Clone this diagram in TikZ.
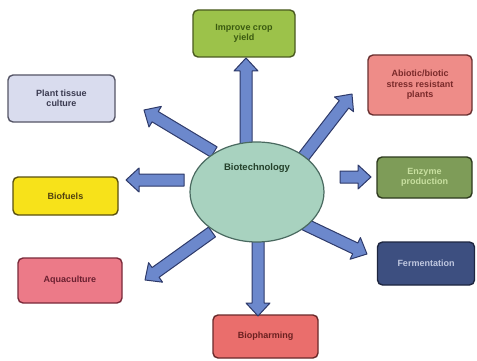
\documentclass[tikz,border=0pt]{standalone}
\usepackage{fontspec}
\setmainfont{Liberation Sans}
\usetikzlibrary{calc,shapes.geometric}
\definecolor{arrfill}{HTML}{6C88CC}
\definecolor{arrdraw}{HTML}{2E3A6A}
\definecolor{cropF}{HTML}{9CC24A}\definecolor{cropD}{HTML}{4A5A20}\definecolor{cropT}{HTML}{3A5A10}
\definecolor{ptcF}{HTML}{D9DCEE}\definecolor{ptcD}{HTML}{555566}\definecolor{ptcT}{HTML}{3A3A50}
\definecolor{abioF}{HTML}{EE8C88}\definecolor{abioD}{HTML}{6A3030}\definecolor{abioT}{HTML}{7A2A2A}
\definecolor{enzF}{HTML}{7E9C58}\definecolor{enzD}{HTML}{2E3A1E}\definecolor{enzT}{HTML}{C8E0A0}
\definecolor{fermF}{HTML}{3D4F80}\definecolor{fermD}{HTML}{1E2640}\definecolor{fermT}{HTML}{C0C8E0}
\definecolor{biofF}{HTML}{F7E21A}\definecolor{biofD}{HTML}{5A5010}\definecolor{biofT}{HTML}{504010}
\definecolor{aquaF}{HTML}{EC7A88}\definecolor{aquaD}{HTML}{7A2A3A}\definecolor{aquaT}{HTML}{6A2030}
\definecolor{biophF}{HTML}{EA6E6C}\definecolor{biophD}{HTML}{6A2A2A}\definecolor{biophT}{HTML}{6A2020}
\definecolor{ellF}{HTML}{A8D2BF}\definecolor{ellD}{HTML}{4A6A60}\definecolor{ellT}{HTML}{24402A}
\tikzset{
  box/.style={rectangle, rounded corners=5pt, line width=1.4pt, align=center,
    font=\fontsize{9}{10.5}\selectfont\bfseries, inner sep=2pt},
  barrowstyle/.style={fill=arrfill, draw=arrdraw, line width=1pt, line join=round},
}
\newcommand\blockarrow[2]{%
  \path let \p1=($(#2)-(#1)$) in \pgfextra{%
    \pgfmathsetmacro\tmpang{atan2(\y1,\x1)}%
    \pgfmathsetmacro\tmplen{veclen(\x1,\y1)}%
    \xdef\bang{\tmpang}\xdef\blen{\tmplen}};
  \begin{scope}[shift={(#1)}, rotate=\bang]
    \draw[barrowstyle] (0pt,-6pt) -- ({\blen pt-13pt},-6pt) -- ({\blen pt-13pt},-12pt)
      -- (\blen pt,0pt) -- ({\blen pt-13pt},12pt) -- ({\blen pt-13pt},6pt) -- (0pt,6pt) -- cycle;
  \end{scope}}
\begin{document}
\begin{tikzpicture}[x=1pt,y=-1pt]
\useasboundingbox (0,0) rectangle (477,361);
\fill[white] (0,0) rectangle (477,361);

\node[box, fill=cropF, draw=cropD, text=cropT,
  minimum width=102pt, minimum height=47pt] (crop) at (244,33.5) {Improve crop\\yield};
\node[box, fill=ptcF, draw=ptcD, text=ptcT,
  minimum width=107pt, minimum height=47pt] (ptc) at (61.5,98.5) {Plant tissue\\culture};
\node[box, fill=abioF, draw=abioD, text=abioT,
  minimum width=104pt, minimum height=60pt] (abio) at (420,85) {Abiotic/biotic\\stress resistant\\plants};
\node[box, fill=enzF, draw=enzD, text=enzT,
  minimum width=95pt, minimum height=41pt] (enz) at (424.5,177.5) {Enzyme\\production};
\node[box, fill=fermF, draw=fermD, text=fermT,
  minimum width=97pt, minimum height=43pt] (ferm) at (426,263.5) {Fermentation};
\node[box, fill=biofF, draw=biofD, text=biofT,
  minimum width=105pt, minimum height=38pt] (biof) at (65.5,196) {Biofuels};
\node[box, fill=aquaF, draw=aquaD, text=aquaT,
  minimum width=104pt, minimum height=45pt] (aqua) at (70,280.5) {Aquaculture};
\node[box, fill=biophF, draw=biophD, text=biophT,
  minimum width=105pt, minimum height=43pt] (bioph) at (265.5,336.5) {Biopharming};

\coordinate (t1) at (246,152); \coordinate (h1) at (246,58);
\coordinate (t2) at (214,152); \coordinate (h2) at (144,110);
\coordinate (t3) at (301,160); \coordinate (h3) at (352,94);
\coordinate (t4) at (340,177); \coordinate (h4) at (371,177);
\coordinate (t5) at (304,224); \coordinate (h5) at (367,254);
\coordinate (t6) at (184,180); \coordinate (h6) at (126,180);
\coordinate (t7) at (212,232); \coordinate (h7) at (145,280);
\coordinate (t8) at (258,236); \coordinate (h8) at (258,316);

\blockarrow{t1}{h1}
\blockarrow{t2}{h2}
\blockarrow{t3}{h3}
\blockarrow{t4}{h4}
\blockarrow{t5}{h5}
\blockarrow{t6}{h6}
\blockarrow{t7}{h7}
\blockarrow{t8}{h8}

\node[ellipse, fill=ellF, draw=ellD, line width=1.2pt,
  minimum width=134pt, minimum height=100pt, inner sep=0pt] (bio) at (257,192) {};
\node[font=\fontsize{9.5}{11}\selectfont\bfseries, text=ellT] (biot) at (257,168) {Biotechnology};
\end{tikzpicture}
\end{document}
